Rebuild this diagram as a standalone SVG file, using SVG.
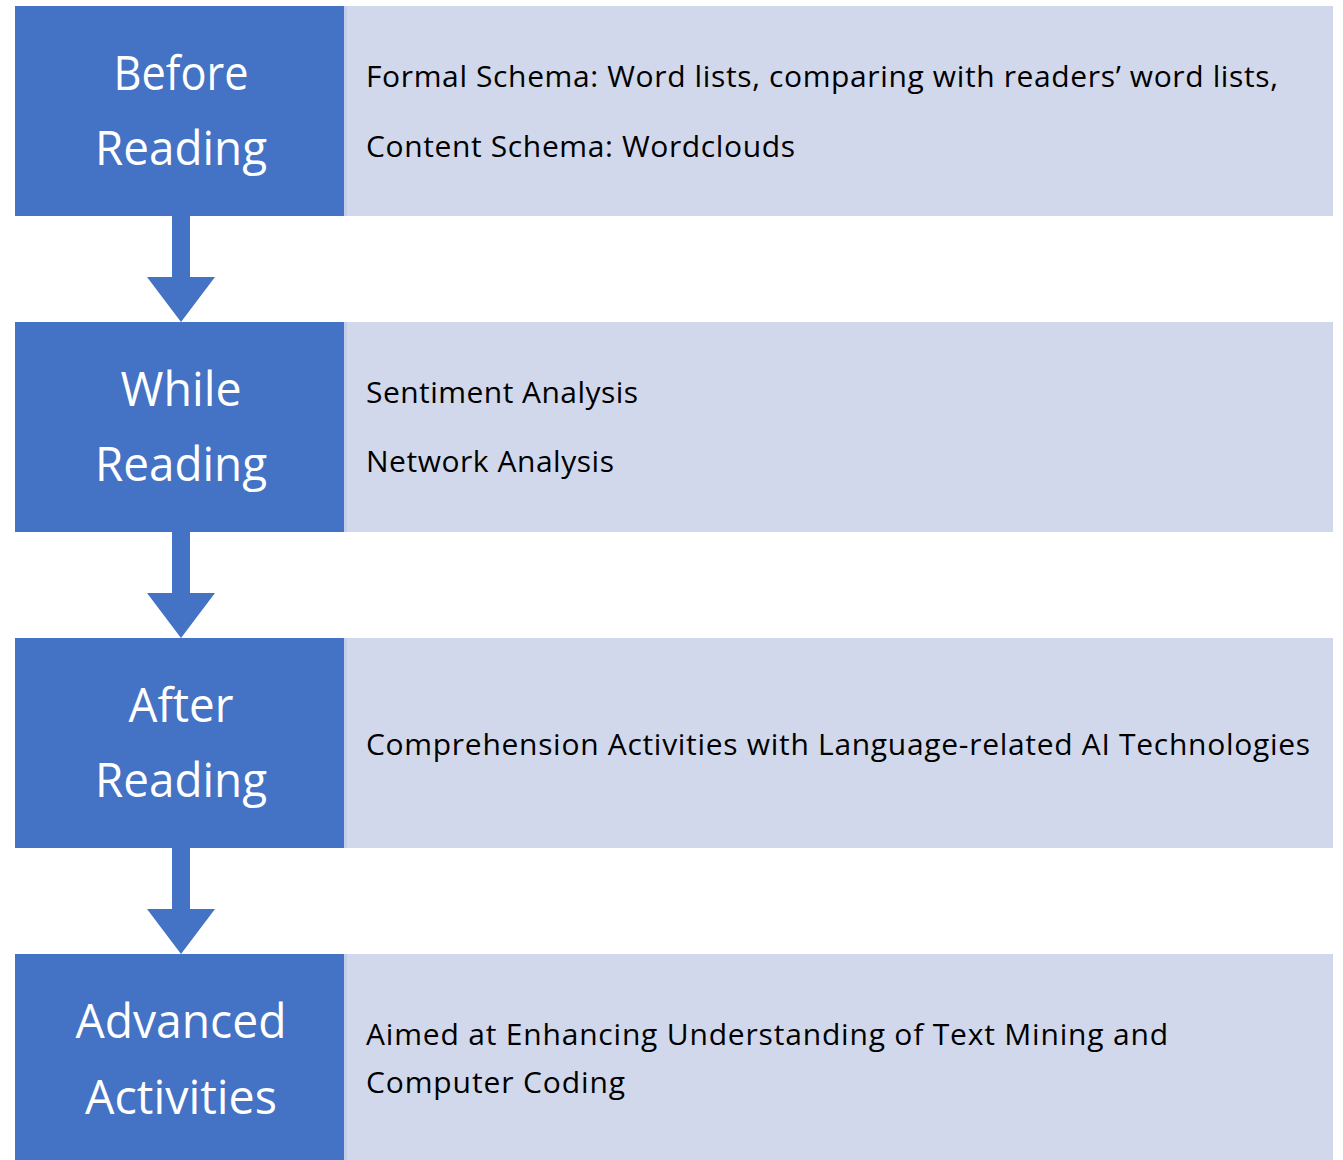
<svg xmlns="http://www.w3.org/2000/svg" width="1343" height="1160" viewBox="0 0 1343 1160">
<style>
.stage{fill:#4472C4}
.desc{fill:#D2D8EB}
.edge{fill:#C3CDEA}
.title{font-family:"Open Sans","Noto Sans","Liberation Sans",sans-serif;font-size:48px;fill:#FFFFFF;text-anchor:middle}
.body{font-family:"Open Sans","Noto Sans","Liberation Sans",sans-serif;font-size:30px;fill:#000000}
.arrow{fill:#4472C4}
</style>
<rect x="0" y="0" width="1343" height="1160" fill="#FFFFFF"/>
<g id="connectors">
<path class="arrow" d="M172 215 H190 V277 H215 L181 322 L147 277 H172 Z"/>
<path class="arrow" d="M172 531 H190 V593 H215 L181 638 L147 593 H172 Z"/>
<path class="arrow" d="M172 847 H190 V909 H215 L181 954 L147 909 H172 Z"/>
</g>
<g id="before-reading">
<rect class="stage" x="15" y="6" width="329" height="210"/>
<text class="title" x="181" y="90" textLength="135" lengthAdjust="spacingAndGlyphs">Before</text>
<text class="title" x="181" y="165" textLength="172" lengthAdjust="spacingAndGlyphs">Reading</text>
</g>
<g id="before-reading-desc">
<rect class="desc" x="344" y="6" width="989" height="210"/>
<rect class="edge" x="344" y="6" width="3" height="210"/>
<text class="body" x="366" y="87" textLength="912" lengthAdjust="spacing">Formal Schema: Word lists, comparing with readers’ word lists,</text>
<text class="body" x="366" y="157" textLength="429" lengthAdjust="spacing">Content Schema: Wordclouds</text>
</g>
<g id="while-reading">
<rect class="stage" x="15" y="322" width="329" height="210"/>
<text class="title" x="181" y="406" textLength="121" lengthAdjust="spacingAndGlyphs">While</text>
<text class="title" x="181" y="481" textLength="172" lengthAdjust="spacingAndGlyphs">Reading</text>
</g>
<g id="while-reading-desc">
<rect class="desc" x="344" y="322" width="989" height="210"/>
<rect class="edge" x="344" y="322" width="3" height="210"/>
<text class="body" x="366" y="403" textLength="272" lengthAdjust="spacing">Sentiment Analysis</text>
<text class="body" x="366" y="472" textLength="248" lengthAdjust="spacing">Network Analysis</text>
</g>
<g id="after-reading">
<rect class="stage" x="15" y="638" width="329" height="210"/>
<text class="title" x="181" y="722" textLength="105" lengthAdjust="spacingAndGlyphs">After</text>
<text class="title" x="181" y="797" textLength="172" lengthAdjust="spacingAndGlyphs">Reading</text>
</g>
<g id="after-reading-desc">
<rect class="desc" x="344" y="638" width="989" height="210"/>
<rect class="edge" x="344" y="638" width="3" height="210"/>
<text class="body" x="366" y="755" textLength="944" lengthAdjust="spacing">Comprehension Activities with Language-related AI Technologies</text>
</g>
<g id="advanced-activities">
<rect class="stage" x="15" y="954" width="329" height="206"/>
<text class="title" x="181" y="1038" textLength="211" lengthAdjust="spacingAndGlyphs">Advanced</text>
<text class="title" x="181" y="1114" textLength="192" lengthAdjust="spacingAndGlyphs">Activities</text>
</g>
<g id="advanced-activities-desc">
<rect class="desc" x="344" y="954" width="989" height="206"/>
<rect class="edge" x="344" y="954" width="3" height="206"/>
<text class="body" x="366" y="1045" textLength="802" lengthAdjust="spacing">Aimed at Enhancing Understanding of Text Mining and</text>
<text class="body" x="366" y="1093" textLength="259" lengthAdjust="spacing">Computer Coding</text>
</g>
</svg>
